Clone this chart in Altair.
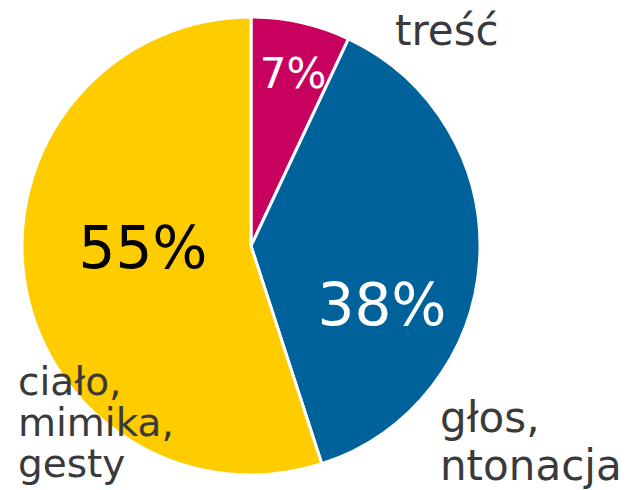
import altair as alt
import pandas as pd

categories = ["treść", "głos, intonacja", "ciało, mimika, gesty"]
values = [7, 38, 55]
pct_labels = ["7%", "38%", "55%"]
outer_labels = ["treść", "głos,\nntonacja", "ciało,\nmimika,\ngesty"]
colors = ["#C8005E", "#00629B", "#FFCC00"]
pct_colors = ["white", "white", "black"]

df = pd.DataFrame({
    "category": categories,
    "value": values,
    "pct": pct_labels,
    "label": outer_labels,
    "order": list(range(len(categories))),
})

base = alt.Chart(df)
CX, CY = 251, 246

pie = base.mark_arc(outerRadius=229, stroke="white", strokeWidth=3).encode(
    theta=alt.Theta("value:Q", stack=True),
    color=alt.Color("category:N", scale=alt.Scale(domain=categories, range=colors), legend=None),
    order=alt.Order("order:Q"),
    x=alt.value(CX),
    y=alt.value(CY),
)

FONT = "DejaVu Sans"

def pct_text(i, x, y, size):
    return base.transform_filter(alt.datum.category == categories[i]).mark_text(
        font=FONT, fontSize=size, align="center", baseline="alphabetic", color=pct_colors[i]
    ).encode(text="pct:N", x=alt.value(x), y=alt.value(y))

def label_text(i, x, y, size, lh):
    return base.transform_filter(alt.datum.category == categories[i]).mark_text(
        font=FONT, fontSize=size, align="left", baseline="alphabetic", color="#3a3a3a",
        lineBreak="\n", lineHeight=lh
    ).encode(text="label:N", x=alt.value(x), y=alt.value(y))

layers = [
    pie,
    pct_text(0, 293, 88, 42),
    pct_text(1, 382, 325, 58),
    pct_text(2, 143, 268, 58),
    label_text(0, 395, 45, 42, 42),
    label_text(1, 440, 432, 42, 48),
    label_text(2, 18, 395, 39, 41),
]

chart = alt.layer(*layers).properties(
    width=631, height=490, autosize=alt.AutoSizeParams(type="none"), padding=0
).configure_view(stroke=None)

chart.save("out.html", embed_options={"renderer": "svg", "actions": False})
